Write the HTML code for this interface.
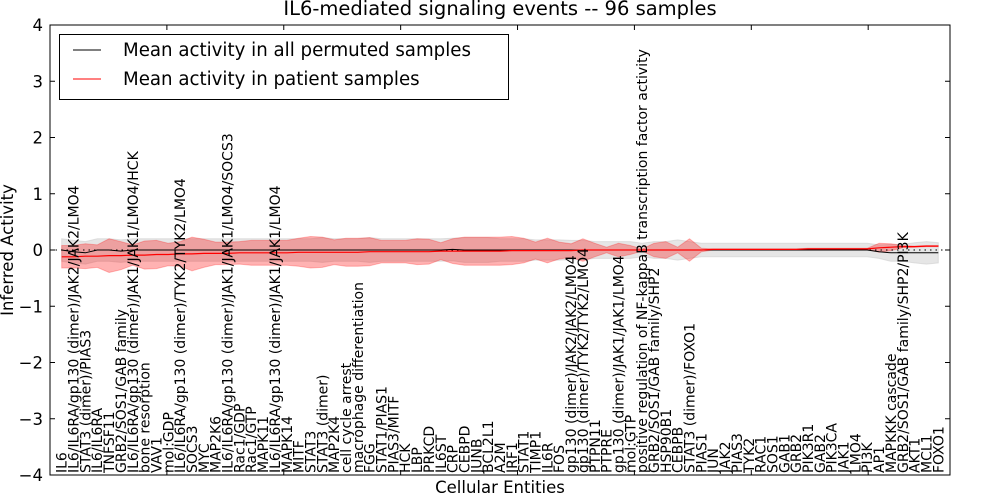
<!DOCTYPE html>
<html><head><meta charset="utf-8"><style>
body{margin:0;background:#fff;}
svg{display:block;font-family:"DejaVu Sans","Liberation Sans",sans-serif;}
</style></head><body>
<svg id="chart" width="1000" height="500"></svg>
<script>
const categories=["IL6","IL6/IL6RA/gp130 (dimer)/JAK2/JAK2/LMO4","STAT3 (dimer)/PIAS3","IL6/IL6RA","TNFSF11","GRB2/SOS1/GAB family","IL6/IL6RA/gp130 (dimer)/JAK1/JAK1/LMO4/HCK","bone resorption","VAV1","mol:GDP","IL6/IL6RA/gp130 (dimer)/TYK2/TYK2/LMO4","SOCS3","MYC","MAP2K6","IL6/IL6RA/gp130 (dimer)/JAK1/JAK1/LMO4/SOCS3","Rac1/GDP","Rac1/GTP","MAPK11","IL6/IL6RA/gp130 (dimer)/JAK1/JAK1/LMO4","MAPK14","MITF","STAT3","STAT3 (dimer)","MAP2K4","cell cycle arrest","macrophage differentiation","FGG","STAT1/PIAS1","PIAS3/MITF","HCK","LBP","PRKCD","IL6ST","CRP","CEBPD","JUNB","BCL2L1","A2M","IRF1","STAT1","TIMP1","IL6R","FOS","gp130 (dimer)/JAK2/JAK2/LMO4","gp130 (dimer)/TYK2/TYK2/LMO4","PTPN11","PTPRE","gp130 (dimer)/JAK1/JAK1/LMO4","mol:GTP","positive regulation of NF-kappaB transcription factor activity","GRB2/SOS1/GAB family/SHP2","HSP90B1","CEBPB","STAT3 (dimer)/FOXO1","PIAS1","JUN","JAK2","PIAS3","TYK2","RAC1","SOS1","GAB1","GRB2","PIK3R1","GAB2","PIK3CA","JAK1","LMO4","PI3K","AP1","MAPKKK cascade","GRB2/SOS1/GAB family/SHP2/PI3K","AKT1","MCL1","FOXO1"];
const patientMean=[-0.12,-0.12,-0.11,-0.11,-0.1,-0.1,-0.09,-0.09,-0.08,-0.08,-0.07,-0.07,-0.06,-0.06,-0.06,-0.05,-0.05,-0.05,-0.05,-0.05,-0.04,-0.04,-0.04,-0.04,-0.04,-0.04,-0.03,-0.03,-0.03,-0.03,-0.03,-0.03,-0.02,-0.02,-0.02,-0.02,-0.02,-0.02,-0.01,-0.01,-0.01,-0.01,-0.01,-0.01,0,0,0,0,0,0,0,0,0,0,0,0.01,0.01,0.01,0.01,0.01,0.01,0.01,0.01,0.02,0.02,0.02,0.02,0.02,0.02,0.04,0.05,0.06,0.06,0.07,0.07];
const patientSd=[0.2,0.2,0.22,0.2,0.3,0.25,0.18,0.25,0.25,0.2,0.22,0.3,0.25,0.2,0.2,0.2,0.22,0.22,0.22,0.22,0.25,0.28,0.27,0.22,0.25,0.25,0.25,0.2,0.2,0.2,0.23,0.22,0.15,0.22,0.25,0.25,0.25,0.25,0.25,0.22,0.15,0.22,0.15,0.12,0.2,0.12,0.05,0.12,0.08,0.02,0.12,0.15,0.05,0.2,0.03,0.01,0.01,0.01,0.01,0.01,0.01,0.01,0.01,0.01,0.01,0.01,0.01,0.01,0.01,0.08,0.06,0.02,0.01,0.01,0.01];
const permutedMean=[0,-0.03,-0.05,0,0,-0.02,0,0,0,0,0,0,0,0,0,0,0,0,0,0,0,0,0,0,0,0,0,0,0,0,0,0,0,0.01,0,0,0,0,0,0,0,0,0,0,0,0,0,0,0,0,0,0,0,0,0,0,0,0,0,0,0,0,0,0,0,0,0,0,0,-0.03,-0.05,-0.05,-0.05,-0.05,-0.05];
const permutedSd=[0.2,0.2,0.2,0.2,0.2,0.2,0.2,0.2,0.2,0.2,0.2,0.2,0.2,0.2,0.2,0.2,0.2,0.2,0.2,0.2,0.2,0.2,0.22,0.2,0.2,0.2,0.22,0.2,0.2,0.2,0.2,0.2,0.2,0.2,0.22,0.22,0.22,0.2,0.2,0.2,0.18,0.18,0.18,0.17,0.17,0.15,0.15,0.15,0.15,0.12,0.15,0.15,0.18,0.15,0.12,0.12,0.12,0.12,0.12,0.12,0.12,0.12,0.12,0.12,0.12,0.12,0.12,0.12,0.12,0.12,0.15,0.15,0.18,0.2,0.18];
const yTicks=[-4,-3,-2,-1,0,1,2,3,4];
const xTicks=[10,20,30,40,50,60,70];

const NS="http://www.w3.org/2000/svg";
const svg=document.getElementById('chart');
const L=50,R=950,T=25,B=475;
const xs=v=>L+(v/77)*(R-L);
const ys=v=>T+(4-v)/8*(B-T);
const px=i=>xs(1+i*75/(categories.length-1));
function mk(tag,attrs,parent){const e=document.createElementNS(NS,tag);for(const k in attrs)e.setAttribute(k,attrs[k]);(parent||svg).appendChild(e);return e;}
function band(mean,sd){let up=mean.map((m,i)=>px(i).toFixed(1)+','+ys(m+sd[i]).toFixed(1));let lo=mean.map((m,i)=>px(i).toFixed(1)+','+ys(m-sd[i]).toFixed(1)).reverse();return up.concat(lo).join(' ');}
function line(mean){return mean.map((m,i)=>(i?'L':'M')+px(i).toFixed(1)+','+ys(m).toFixed(1)).join(' ');}

const g1=mk('polygon',{points:band(permutedMean,permutedSd),fill:'#c8c8c8','fill-opacity':'0.45',stroke:'#c8c8c8','stroke-opacity':'0.5'});


const g2=mk('polygon',{points:band(patientMean,patientSd),fill:'#ff0000','fill-opacity':'0.3',stroke:'#ff0000','stroke-opacity':'0.25'});


const zl=mk('line',{x1:L,x2:R,y1:ys(0),y2:ys(0),stroke:'#000','stroke-dasharray':'1.5,4','stroke-width':1});


const l1=mk('path',{d:line(permutedMean),fill:'none',stroke:'#000','stroke-width':1});


const l2=mk('path',{d:line(patientMean),fill:'none',stroke:'#ff0000','stroke-width':1.2});



categories.forEach((c,i)=>{
  const t=mk('text',{x:0,y:0,transform:`translate(${(px(i)+5).toFixed(1)},473) rotate(-90)`,'font-size':'14',fill:'#000'});
  t.textContent=c;
  
  
});

const frame=mk('rect',{x:L,y:T,width:R-L,height:B-T,fill:'none',stroke:'#000','stroke-width':1});


yTicks.forEach(v=>{
  mk('line',{x1:L,x2:L+5,y1:ys(v),y2:ys(v),stroke:'#000'});
  mk('line',{x1:R-5,x2:R,y1:ys(v),y2:ys(v),stroke:'#000'});
  const t=mk('text',{x:L-7,y:ys(v)+6,'text-anchor':'end','font-size':'16.5'});
  t.textContent=(v<0?'\u2212':'')+Math.abs(v);
  
  
});
xTicks.forEach(v=>{
  mk('line',{x1:xs(v),x2:xs(v),y1:T,y2:T+5,stroke:'#000'});
  mk('line',{x1:xs(v),x2:xs(v),y1:B-5,y2:B,stroke:'#000'});
});
</script>
<svg style="position:absolute;left:0;top:0" width="1000" height="500">
<text x="500" y="15" text-anchor="middle" font-size="19.5" font-family="DejaVu Sans, Liberation Sans, sans-serif">IL6-mediated signaling events -- 96 samples</text>
<text x="500" y="493" text-anchor="middle" font-size="16.5" font-family="DejaVu Sans, Liberation Sans, sans-serif">Cellular Entities</text>
<text transform="translate(13,250) rotate(-90)" text-anchor="middle" font-size="16.5" font-family="DejaVu Sans, Liberation Sans, sans-serif">Inferred Activity</text>
<g>
<rect x="59.5" y="34.5" width="449" height="65" fill="#fff" stroke="#000"/>
<line x1="73" x2="101" y1="50" y2="50" stroke="#000"/>
<text x="123" y="56" font-size="18.2" font-family="DejaVu Sans, Liberation Sans, sans-serif">Mean activity in all permuted samples</text>
<line x1="73" x2="101" y1="79" y2="79" stroke="#ff0000"/>
<text x="123" y="85" font-size="18.2" font-family="DejaVu Sans, Liberation Sans, sans-serif">Mean activity in patient samples</text>
</g>
</svg>
</body></html>
